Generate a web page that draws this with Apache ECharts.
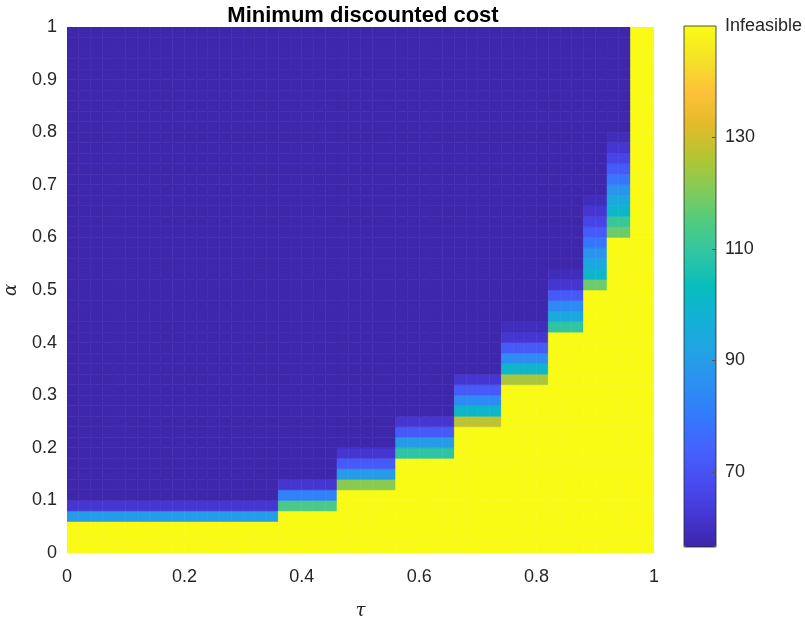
<!DOCTYPE html>
<html>
<head>
<meta charset="utf-8">
<script src="https://cdn.jsdelivr.net/npm/echarts@6/dist/echarts.min.js"></script>
<style>
  html, body { margin: 0; padding: 0; background: #fff; }
  #chart { width: 805px; height: 618px; }
</style>
</head>
<body>
<div id="chart"></div>
<script>
// grid step of tau / alpha (cell size)
const cell = 0.02;
// right edge (tau) of each staircase step
const stepRight = [0.36, 0.46, 0.56, 0.66, 0.74, 0.82, 0.88, 0.92, 0.96, 1.0];
// below this alpha the problem is infeasible, per step
const feasibleFrom = [0.06, 0.08, 0.12, 0.18, 0.24, 0.32, 0.42, 0.50, 0.60, 1.0];
// costs of the cells just above the feasibility border, bottom up, per step
const edgeCosts = [
  [89.5, 62],
  [113.5, 82, 62],
  [121.4, 89.5, 72, 62],
  [109.3, 89.5, 72, 62],
  [128, 100.5, 84.5, 72, 62],
  [125.4, 100.5, 84.5, 72, 62, 59],
  [109.3, 94, 84.5, 72, 62, 59],
  [118, 100.5, 94, 87.5, 79, 72, 66, 62, 59],
  [118, 110.7, 100.5, 94, 87.5, 79, 72, 66, 62, 59],
  []
];
const interiorCost = 57;
const infeasibleCost = 150;
const costMin = 56.5;
const costMax = 150;
const cbarTicks = [70, 90, 110, 130];
const infeasibleLabel = 'Infeasible';

// parula
const parula = ['#3e26a8', '#4537d5', '#484cf0', '#4562fc', '#337afd', '#2c8ff0', '#22a2e4',
  '#12b1d6', '#09bdbd', '#2fc5a3', '#51cc7f', '#84cb56', '#b5c533', '#e3bb2b', '#fec13a',
  '#f5e327', '#f9fb15'];

const r2 = v => Math.round(v * 100) / 100;
const cells = [];
for (let i = 0; i < 50; i++) {
  const t0 = r2(i * cell);
  let s = 0;
  while (t0 >= stepRight[s] - 1e-9) s++;
  for (let j = 0; j < 50; j++) {
    const a0 = r2(j * cell);
    let c;
    if (a0 < feasibleFrom[s] - 1e-9) {
      c = infeasibleCost;
    } else {
      const k = Math.round((a0 - feasibleFrom[s]) / cell);
      c = k < edgeCosts[s].length ? edgeCosts[s][k] : interiorCost;
    }
    cells.push([t0, a0, c]);
  }
}

const txt = '#262626';
const font = 'Liberation Sans, Arial, Helvetica, sans-serif';

const chart = echarts.init(document.getElementById('chart'));
chart.setOption({
  animation: false,
  backgroundColor: '#fff',
  title: {
    text: 'Minimum discounted cost',
    left: 358,
    textAlign: 'center',
    top: 0,
    textStyle: { fontFamily: font, fontWeight: 'bold', fontSize: 22, color: '#000' }
  },
  grid: [
    { left: 67, top: 27, width: 587, height: 526, outerBoundsMode: 'none', containLabel: false },
    { left: 684, top: 26, width: 32, height: 521, outerBoundsMode: 'none', containLabel: false,
      show: true, borderColor: '#262626', borderWidth: 0.8, backgroundColor: 'transparent', z: 10 }
  ],
  xAxis: [
    {
      type: 'value', min: 0, max: 1, interval: 0.2,
      name: 'τ', nameLocation: 'middle', nameGap: 49,
      nameTextStyle: { fontFamily: 'DejaVu Serif', fontStyle: 'italic', fontSize: 18, color: txt },
      axisLine: { show: false }, axisTick: { show: false }, splitLine: { show: false },
      axisLabel: { fontFamily: font, fontSize: 18, color: txt, margin: 15 }
    },
    { gridIndex: 1, type: 'value', min: 0, max: 1, show: false }
  ],
  yAxis: [
    {
      type: 'value', min: 0, max: 1, interval: 0.1,
      name: 'α', nameLocation: 'middle', nameGap: 47, nameRotate: 90,
      nameTextStyle: { fontFamily: 'DejaVu Serif', fontStyle: 'italic', fontSize: 18, color: txt },
      axisLine: { show: false }, axisTick: { show: false }, splitLine: { show: false },
      axisLabel: { fontFamily: font, fontSize: 18, color: txt, margin: 10 }
    },
    {
      gridIndex: 1, type: 'value', position: 'right', min: costMin, max: costMax, z: 20,
      axisLine: { show: false, onZero: false }, splitLine: { show: false },
      axisTick: { show: true, inside: true, length: 4, customValues: cbarTicks,
        lineStyle: { color: '#555', width: 1 } },
      axisLabel: {
        customValues: cbarTicks.concat([costMax]),
        fontFamily: font, fontSize: 18, color: txt, margin: 9,
        formatter: v => (v === costMax ? infeasibleLabel : String(v))
      }
    }
  ],
  visualMap: {
    type: 'continuous', min: costMin, max: costMax, dimension: 2, seriesIndex: 0,
    calculable: false, hoverLink: false, orient: 'vertical', z: 1,
    left: 684, top: 26, itemWidth: 32, itemHeight: 521, padding: 0,
    text: null, showLabel: false,
    inRange: { color: parula }
  },
  series: [{
    type: 'custom',
    xAxisIndex: 0, yAxisIndex: 0,
    silent: true, clip: true,
    dimensions: ['tau', 'alpha', 'cost'],
    encode: { x: 0, y: 1 },
    data: cells,
    renderItem: function (params, api) {
      const x0 = api.value(0), y0 = api.value(1);
      const a = api.coord([x0, y0 + cell]);
      const b = api.coord([x0 + cell, y0]);
      const col = api.visual('color');
      return {
        type: 'rect',
        shape: { x: a[0], y: a[1], width: b[0] - a[0], height: b[1] - a[1] },
        style: { fill: col, stroke: col, lineWidth: 0.6 }
      };
    }
  }]
});
</script>
</body>
</html>
